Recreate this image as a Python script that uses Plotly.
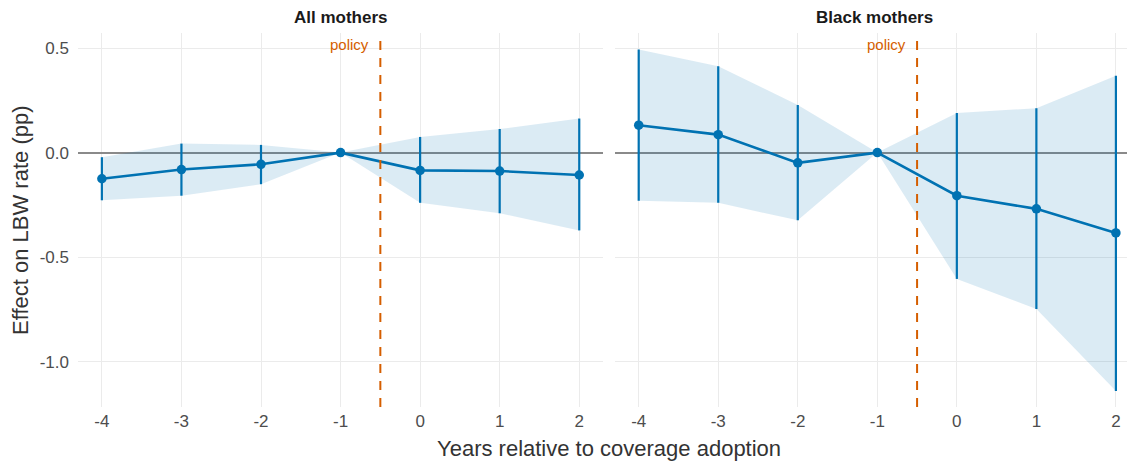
import plotly.graph_objects as go
from plotly.subplots import make_subplots

years = [-4, -3, -2, -1, 0, 1, 2]
panels = ["All mothers", "Black mothers"]

all_est = [-0.125, -0.081, -0.056, 0.0, -0.085, -0.088, -0.107]
all_lo = [-0.228, -0.206, -0.151, 0.0, -0.240, -0.290, -0.372]
all_hi = [-0.022, 0.043, 0.037, 0.0, 0.075, 0.113, 0.163]

blk_est = [0.131, 0.086, -0.049, 0.0, -0.206, -0.269, -0.384]
blk_lo = [-0.230, -0.240, -0.324, 0.0, -0.604, -0.748, -1.140]
blk_hi = [0.493, 0.413, 0.228, 0.0, 0.190, 0.212, 0.368]

policy_x = -0.5
y_ticks = [0.5, 0.0, -0.5, -1.0]
y_ticktext = ["0.5", "0.0", "-0.5", "-1.0"]
x_ticktext = ["-4", "-3", "-2", "-1", "0", "1", "2"]

BLUE = "#0072B2"
ORANGE = "#D55E00"
RIBBON = "rgba(0,114,178,0.14)"
FONT = "Liberation Sans, Arial, sans-serif"

fig = make_subplots(rows=1, cols=2, shared_yaxes=True)

series = [(all_est, all_lo, all_hi), (blk_est, blk_lo, blk_hi)]
for i, (est, lo, hi) in enumerate(series, start=1):
    fig.add_trace(go.Scatter(x=years, y=lo, mode="lines", line=dict(width=0),
                             hoverinfo="skip", showlegend=False), row=1, col=i)
    fig.add_trace(go.Scatter(x=years, y=hi, mode="lines", line=dict(width=0),
                             fill="tonexty", fillcolor=RIBBON,
                             hoverinfo="skip", showlegend=False), row=1, col=i)
    fig.add_trace(go.Scatter(
        x=years, y=est, mode="lines+markers",
        line=dict(color=BLUE, width=2.6),
        marker=dict(color=BLUE, size=9.5),
        error_y=dict(type="data", symmetric=False,
                     array=[h - e for h, e in zip(hi, est)],
                     arrayminus=[e - l for e, l in zip(est, lo)],
                     color=BLUE, thickness=2.2, width=0),
        showlegend=False,
    ), row=1, col=i)
    fig.add_vline(x=policy_x, line=dict(color=ORANGE, width=2, dash="9px,8px"),
                  row=1, col=i)
    fig.add_annotation(x=policy_x, y=0.516, text="policy", showarrow=False,
                       xanchor="right", yanchor="middle", xshift=-9,
                       xref=f"x{'' if i == 1 else i}", yref="y",
                       font=dict(family=FONT, size=15, color=ORANGE))

axis_common = dict(
    showgrid=True, gridcolor="#EBEBEB", gridwidth=1.1,
    showline=False, ticks="", tickfont=dict(family=FONT, size=17, color="#4D4D4D"),
)
fig.update_xaxes(tickvals=years, ticktext=x_ticktext, zeroline=False,
                 ticklabelstandoff=2, **axis_common)
fig.update_xaxes(domain=[0, 0.4968], range=[-4.3, 2.3], row=1, col=1)
fig.update_xaxes(domain=[0.5079, 1], range=[-4.3, 2.24], row=1, col=2)
fig.update_yaxes(range=[-1.2165, 0.572], tickvals=y_ticks, ticktext=y_ticktext,
                 zeroline=True, zerolinecolor="#8A8A8A", zerolinewidth=1.7,
                 ticklabelstandoff=8, **axis_common)

strip_font = dict(family=FONT, size=17, color="#1A1A1A")
title_font = dict(family=FONT, size=22, color="#333333")
fig.add_annotation(x=0.2484, y=1.041, xref="paper", yref="paper", text="<b>All mothers</b>",
                   xanchor="center", yanchor="middle", showarrow=False, font=strip_font)
fig.add_annotation(x=0.754, y=1.041, xref="paper", yref="paper", text="<b>Black mothers</b>",
                   xanchor="center", yanchor="middle", showarrow=False, font=strip_font)
fig.add_annotation(x=0.502, y=-0.11, xref="paper", yref="paper",
                   text="Years relative to coverage adoption", showarrow=False,
                   xanchor="center", yanchor="middle", font=title_font)
fig.add_annotation(x=-0.0549, y=0.5, xref="paper", yref="paper", textangle=-90,
                   text="Effect on LBW rate (pp)", showarrow=False,
                   xanchor="center", yanchor="middle", font=title_font)

# the page body adds an 8px offset, so the figure is shrunk by that much
fig.update_layout(
    width=1127, height=455,
    margin=dict(l=70, r=0, t=25, b=56),
    plot_bgcolor="white", paper_bgcolor="white",
    font=dict(family=FONT),
)

fig.write_html("out.html")
